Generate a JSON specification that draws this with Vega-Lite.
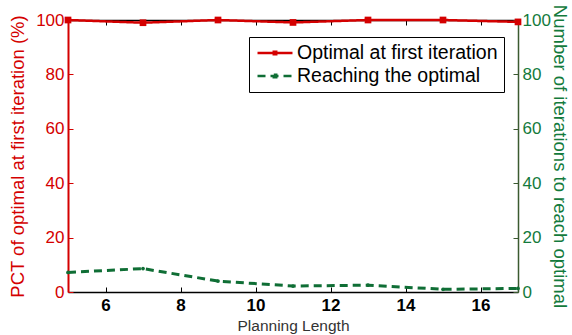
{
  "$schema": "https://vega.github.io/schema/vega-lite/v6.json",
  "width": 450,
  "height": 272,
  "autosize": {"type": "none"},
  "padding": {"left": 68, "top": 20, "right": 54, "bottom": 43},
  "background": "white",
  "datasets": {
    "pct": [
      {"x": 5, "value": 100, "series": "Optimal at first iteration"},
      {"x": 7, "value": 99.0, "series": "Optimal at first iteration"},
      {"x": 9, "value": 100, "series": "Optimal at first iteration"},
      {"x": 11, "value": 99.1, "series": "Optimal at first iteration"},
      {"x": 13, "value": 100, "series": "Optimal at first iteration"},
      {"x": 15, "value": 100, "series": "Optimal at first iteration"},
      {"x": 17, "value": 99.3, "series": "Optimal at first iteration"}
    ],
    "iter": [
      {"x": 5, "value": 7.2, "series": "Reaching the optimal"},
      {"x": 7, "value": 8.6, "series": "Reaching the optimal"},
      {"x": 9, "value": 4.0, "series": "Reaching the optimal"},
      {"x": 11, "value": 2.2, "series": "Reaching the optimal"},
      {"x": 13, "value": 2.5, "series": "Reaching the optimal"},
      {"x": 15, "value": 1.0, "series": "Reaching the optimal"},
      {"x": 17, "value": 1.3, "series": "Reaching the optimal"}
    ]
  },
  "config": {
    "font": "Liberation Sans",
    "view": {"stroke": null},
    "axis": {
      "grid": false,
      "labelFont": "Liberation Sans",
      "titleFont": "Liberation Sans",
      "titleFontWeight": "normal",
      "labelFontSize": 17,
      "titleFontSize": 18.5,
      "domainWidth": 1.5,
      "tickWidth": 1,
      "tickSize": -5
    }
  },
  "layer": [
    {
      "data": {"name": "pct"},
      "encoding": {
        "x": {
          "field": "x",
          "type": "quantitative",
          "scale": {"domain": [5, 17], "nice": false, "zero": false},
          "axis": {
            "orient": "bottom",
            "values": [6, 8, 10, 12, 14, 16],
            "title": "Planning Length",
            "titleFontSize": 15.5,
            "titleColor": "#333333",
            "labelFontWeight": "bold",
            "labelColor": "black",
            "labelPadding": 10,
            "titlePadding": 5,
            "domainColor": "black",
            "tickColor": "black"
          }
        },
        "y": {
          "field": "value",
          "type": "quantitative",
          "scale": {"domain": [0, 100], "nice": false},
          "axis": {
            "orient": "left",
            "values": [0, 20, 40, 60, 80, 100],
            "title": "PCT of optimal at first iteration (%)",
            "titleColor": "#d40000",
            "labelColor": "#d40000",
            "domainColor": "#d40000",
            "tickColor": "#d40000",
            "domainWidth": 2,
            "labelPadding": 9,
            "titlePadding": 8
          }
        }
      },
      "layer": [
        {
          "mark": {"type": "line", "strokeWidth": 2.5},
          "encoding": {
            "color": {
              "field": "series",
              "type": "nominal",
              "scale": {
                "domain": ["Optimal at first iteration", "Reaching the optimal"],
                "range": ["#d40000", "#0f6e35"]
              },
              "legend": {
                "orient": "none",
                "legendX": 181,
                "legendY": 17,
                "title": null,
                "symbolType": "M-2,0H2M-0.14,-0.14H0.14V0.14H-0.14Z",
                "symbolSize": 306,
                "symbolStrokeWidth": 2.5,
                "symbolOffset": 10,
                "labelFont": "Liberation Sans",
                "labelFontSize": 19.5,
                "labelOffset": 12,
                "labelLimit": 400,
                "rowPadding": 3,
                "padding": 6,
                "strokeColor": "black",
                "fillColor": "white",
                "encoding": {
                  "labels": {
                    "update": {
                      "fill": {"signal": "datum.label == 'Optimal at first iteration' ? '#d40000' : '#137a3c'"}
                    }
                  }
                }
              }
            },
            "strokeDash": {
              "field": "series",
              "type": "nominal",
              "scale": {
                "domain": ["Optimal at first iteration", "Reaching the optimal"],
                "range": [[1, 0], [8, 5]]
              },
              "legend": null
            }
          }
        },
        {
          "mark": {"type": "point", "shape": "square", "filled": true, "opacity": 1, "color": "#d40000", "size": 45}
        }
      ]
    },
    {
      "data": {"name": "iter"},
      "encoding": {
        "x": {
          "field": "x",
          "type": "quantitative",
          "scale": {"domain": [5, 17], "nice": false, "zero": false},
          "axis": {
            "orient": "top",
            "values": [6, 8, 10, 12, 14, 16],
            "labels": false,
            "title": null,
            "domainColor": "black",
            "tickColor": "black"
          }
        },
        "y": {
          "field": "value",
          "type": "quantitative",
          "scale": {"domain": [0, 100], "nice": false},
          "axis": {
            "orient": "right",
            "values": [0, 20, 40, 60, 80, 100],
            "title": "Number of iterations to reach optimal",
            "titleColor": "#137a3c",
            "labelColor": "#137a3c",
            "domainColor": "#3b5a30",
            "tickColor": "#3b5a30",
            "labelPadding": 9,
            "titleAngle": 90,
            "titleBaseline": "middle",
            "titleX": 41,
            "titleY": 136
          }
        }
      },
      "layer": [
        {
          "mark": {"type": "line", "strokeWidth": 3},
          "encoding": {
            "color": {"field": "series", "type": "nominal"},
            "strokeDash": {"field": "series", "type": "nominal"}
          }
        },
        {
          "mark": {"type": "point", "shape": "circle", "filled": true, "opacity": 1, "color": "#0f6e35", "size": 14}
        }
      ]
    }
  ],
  "resolve": {"scale": {"y": "independent"}, "axis": {"x": "independent"}}
}
